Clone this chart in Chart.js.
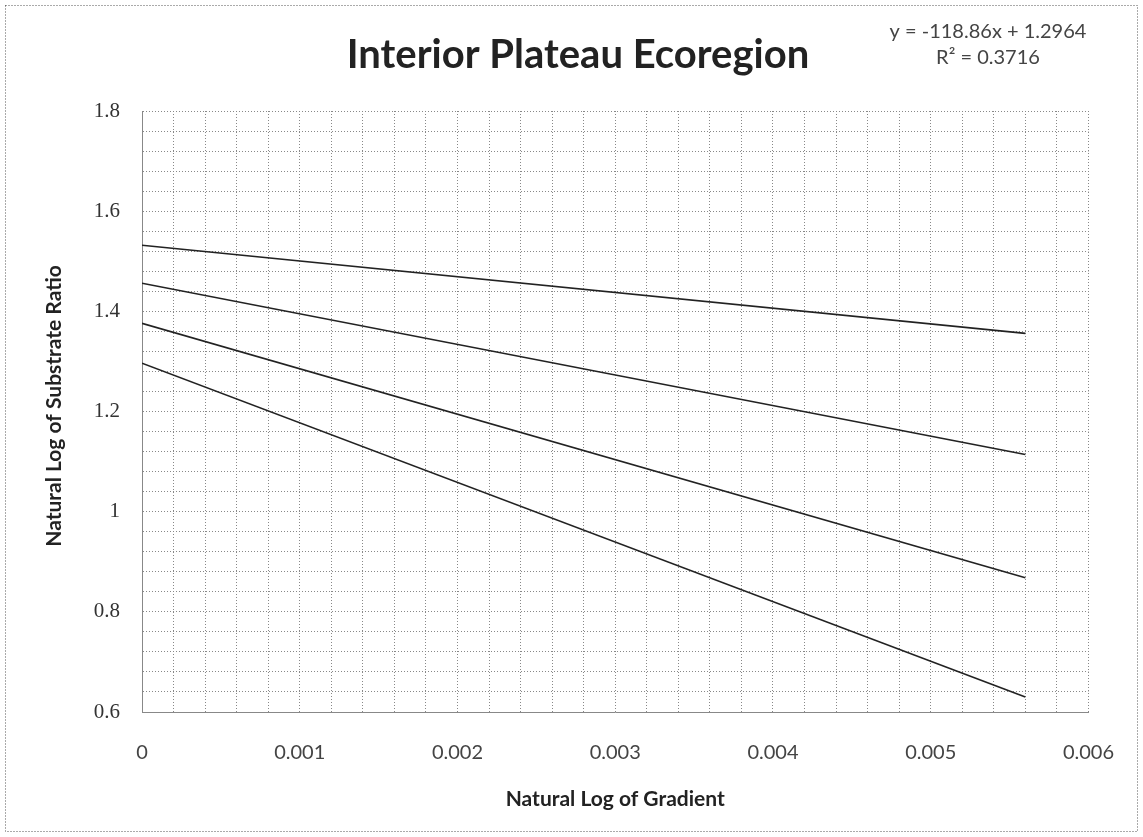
<!DOCTYPE html>
<html>
<head>
<meta charset="utf-8">
<script src="https://cdn.jsdelivr.net/npm/chart.js@4/dist/chart.umd.min.js"></script>
<style>
html,body{margin:0;padding:0;background:#fff;}
#wrap{width:1143px;height:837px;}
</style>
</head>
<body>
<div id="wrap"><canvas id="chart" width="1143" height="837"></canvas></div>
<script>
// data: four straight lines, start and end points
const gradientX=[0,0.0056];
const lineA=[1.532,1.356];
const lineB=[1.456,1.114];
const lineC=[1.376,0.868];
const lineD=[1.2964,0.630];
const xLabels=[0,0.001,0.002,0.003,0.004,0.005,0.006];
const yLabels=[0.6,0.8,1,1.2,1.4,1.6,1.8];
const chartTitle='Interior Plateau Ecoregion';
const eqText='y = -118.86x + 1.2964';
const r2Text='R² = 0.3716';

const toPts=ys=>gradientX.map((x,i)=>({x:x,y:ys[i]}));
const near=(v,list)=>list.some(l=>Math.abs(l-v)<1e-7);

// titles, equation and outer border
const decor={
  id:'decor',
  afterDraw(chart){
    const c=chart.ctx, a=chart.chartArea;
    c.save();
    c.setLineDash([1,2]); c.strokeStyle='#555'; c.lineWidth=1;
    c.strokeRect(5.5,5.5,chart.width-11,chart.height-11);
    c.setLineDash([]);
    c.fillStyle='#222'; c.textAlign='center'; c.textBaseline='middle';
    c.font='bold 40px Lato';
    c.fillText(chartTitle,578,55);
    c.fillStyle='#444'; c.font='20px Lato';
    c.fillText(eqText,988,32);
    c.fillText(r2Text,988,58);
    c.fillStyle='#222'; c.font='bold 21px Lato';
    c.fillText('Natural Log of Gradient',(a.left+a.right)/2,799);
    c.translate(54,406); c.rotate(-Math.PI/2);
    c.fillText('Natural Log of Substrate Ratio',0,0);
    c.restore();
  }
};

const ds=(d)=>({data:toPts(d),borderColor:'#222',borderWidth:1.6,pointRadius:0,fill:false,tension:0});

new Chart(document.getElementById('chart'),{
  type:'line',
  data:{datasets:[ds(lineA),ds(lineB),ds(lineC),ds(lineD)]},
  options:{
    responsive:false,animation:false,
    layout:{padding:{left:0,right:45,top:111,bottom:0}},
    plugins:{legend:{display:false},title:{display:false},tooltip:{enabled:false}},
    scales:{
      x:{type:'linear',min:0,max:0.006,
        afterFit(s){s.height=125;},
        grid:{color:'#888',lineWidth:1,drawTicks:false},
        border:{display:true,color:'#888',dash:[1,2]},
        ticks:{stepSize:0.0002,autoSkip:false,maxTicksLimit:100,maxRotation:0,padding:29,color:'#444',
          font:{family:'Lato',size:20},
          callback:v=>near(v,xLabels)?String(Math.round(v*1e4)/1e4):''}
      },
      y:{type:'linear',min:0.6,max:1.8,
        afterFit(s){s.width=142;},
        grid:{color:'#888',lineWidth:1,drawTicks:false},
        border:{display:true,color:'#888',dash:[1,2]},
        ticks:{stepSize:0.04,autoSkip:false,maxTicksLimit:100,padding:22,color:'#333',
          font:{family:'Liberation Serif',size:21},
          callback:v=>near(v,yLabels)?String(Math.round(v*100)/100):''}
      }
    }
  },
  plugins:[decor]
});
</script>
</body>
</html>
